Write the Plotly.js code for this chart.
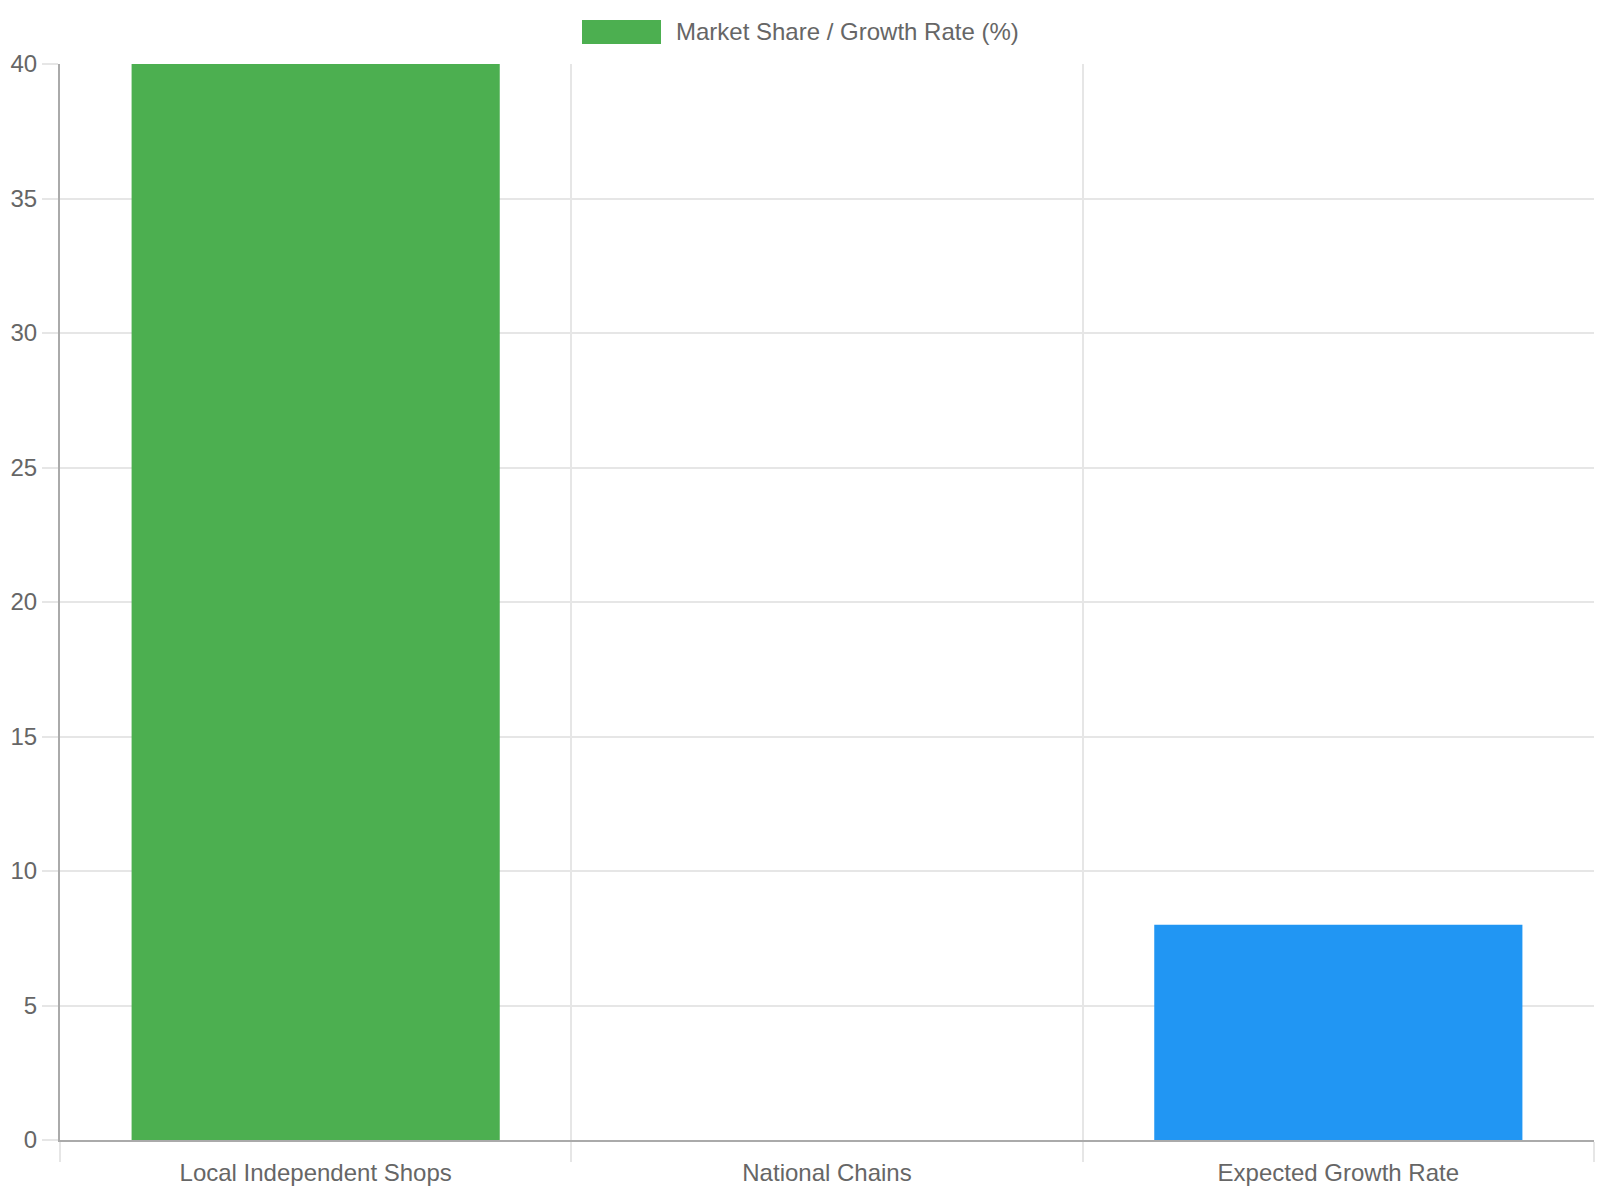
<!DOCTYPE html>
<html>
<head>
<meta charset="utf-8">
<script src="https://cdn.plot.ly/plotly-3.0.1.min.js"></script>
<style>
  html, body { margin: 0; padding: 0; background: #fff; }
  #chart { width: 1600px; height: 1200px; }
</style>
</head>
<body>
<div id="chart"></div>
<script>
const categories = ["Local Independent Shops", "National Chains", "Expected Growth Rate"];
const values = [40, null, 8];
const barColors = ["#4CAF50", "#4CAF50", "#2196F3"];
const seriesName = "Market Share / Growth Rate (%)";
const yTicks = [0, 5, 10, 15, 20, 25, 30, 35, 40];

const FONT = "Liberation Sans, Arial, Helvetica, sans-serif";
const GRID = "#e6e6e6";

const trace = {
  type: "bar",
  x: categories,
  y: values,
  name: seriesName,
  marker: { color: barColors, line: { width: 0 } },
  hoverinfo: "x+y",
  showlegend: false
};

const layout = {
  width: 1600,
  height: 1200,
  margin: { l: 60, r: 6, t: 64, b: 60, pad: 0 },
  paper_bgcolor: "#ffffff",
  plot_bgcolor: "#ffffff",
  font: { family: FONT, size: 24, color: "#666666" },
  bargap: 0.28,
  xaxis: {
    type: "category",
    tickson: "boundaries",
    showgrid: true,
    gridcolor: GRID,
    gridwidth: 2,
    ticks: "outside",
    ticklen: 20,
    tickwidth: 2,
    tickcolor: GRID,
    ticklabelstandoff: 10,
    showline: true,
    linecolor: "#aaaaaa",
    linewidth: 2,
    zeroline: false,
    tickfont: { family: FONT, size: 24, color: "#666666" },
    mirror: false
  },
  yaxis: {
    range: [0, 40],
    tickvals: yTicks,
    ticktext: yTicks.map(String),
    showgrid: true,
    gridcolor: GRID,
    gridwidth: 2,
    ticks: "outside",
    ticklen: 16,
    tickwidth: 2,
    tickcolor: GRID,
    showline: true,
    linecolor: "#aaaaaa",
    linewidth: 2,
    zeroline: false,
    tickfont: { family: FONT, size: 24, color: "#666666" }
  },
  shapes: [
    {
      type: "rect",
      xref: "paper", yref: "paper",
      xsizemode: "pixel", ysizemode: "pixel",
      xanchor: 0, yanchor: 1,
      x0: 522, x1: 601, y0: 20, y1: 44,
      fillcolor: "#4CAF50",
      line: { width: 0 }
    }
  ],
  annotations: [
    {
      text: seriesName,
      xref: "paper", yref: "paper",
      x: (674 - 60) / 1534, y: (1140 - 32) / 1076,
      xanchor: "left", yanchor: "middle",
      showarrow: false,
      font: { family: FONT, size: 24, color: "#666666" }
    }
  ]
};

Plotly.newPlot("chart", [trace], layout, { displayModeBar: false, responsive: false });
</script>
</body>
</html>
